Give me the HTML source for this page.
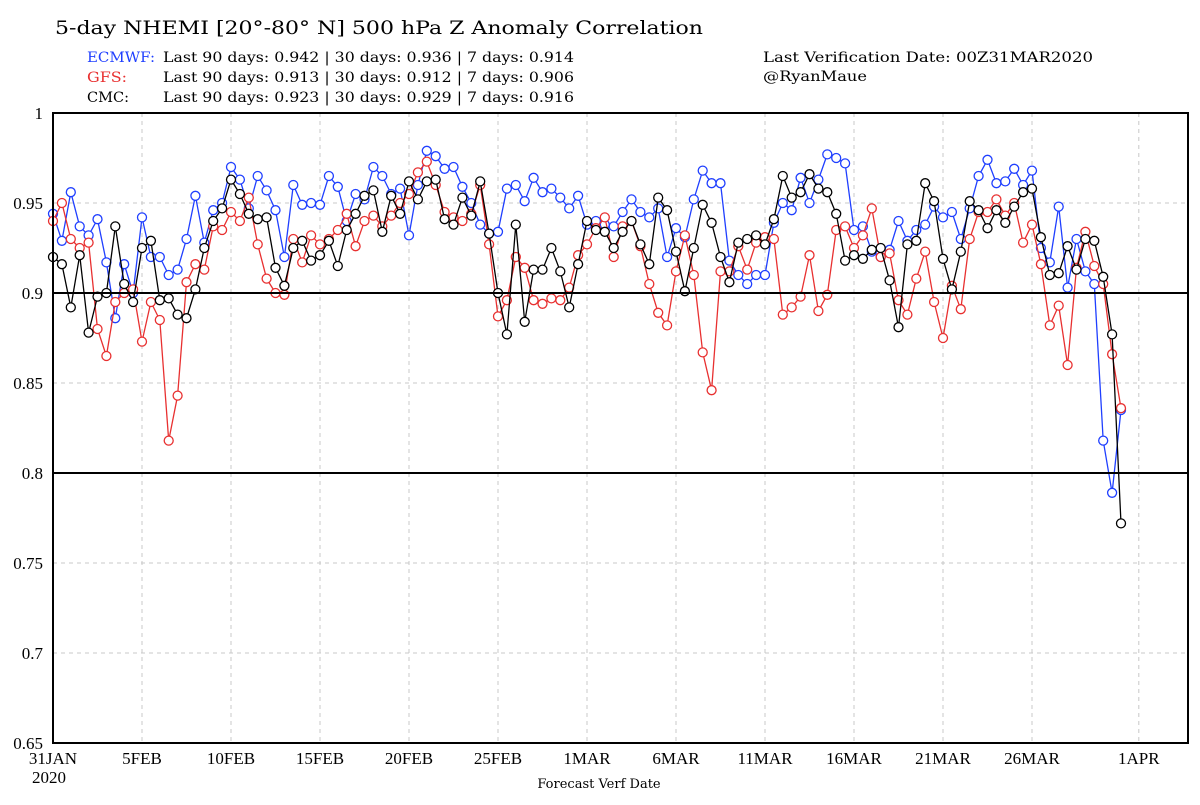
<!DOCTYPE html>
<html><head><meta charset="utf-8"><style>
body{margin:0;background:#fff;width:1200px;height:800px;overflow:hidden}
svg text{font-family:"Liberation Serif",serif}
svg text.w{font-family:"DejaVu Serif","Liberation Serif",serif}
</style></head><body>
<svg id="c" width="1200" height="800">
<text class="w" x="55" y="34" font-size="19" textLength="648" lengthAdjust="spacingAndGlyphs">5-day NHEMI [20°-80° N] 500 hPa Z Anomaly Correlation</text>
<g font-size="13.5">
<text class="w" x="87" y="62" fill="#1f3fff" textLength="68" lengthAdjust="spacingAndGlyphs">ECMWF:</text>
<text class="w" x="163" y="62" textLength="411" lengthAdjust="spacingAndGlyphs">Last 90 days: 0.942 | 30 days: 0.936 | 7 days: 0.914</text>
<text class="w" x="87" y="82" fill="#e83030" textLength="40" lengthAdjust="spacingAndGlyphs">GFS:</text>
<text class="w" x="163" y="82" textLength="411" lengthAdjust="spacingAndGlyphs">Last 90 days: 0.913 | 30 days: 0.912 | 7 days: 0.906</text>
<text class="w" x="87" y="102" textLength="42" lengthAdjust="spacingAndGlyphs">CMC:</text>
<text class="w" x="163" y="102" textLength="411" lengthAdjust="spacingAndGlyphs">Last 90 days: 0.923 | 30 days: 0.929 | 7 days: 0.916</text>
<text class="w" x="763" y="62" textLength="330" lengthAdjust="spacingAndGlyphs">Last Verification Date: 00Z31MAR2020</text>
<text class="w" x="763" y="81" textLength="104" lengthAdjust="spacingAndGlyphs">@RyanMaue</text>
</g>
<g id="grid"></g><g id="series"></g><g id="axes"></g>
<text class="w" x="599" y="788" font-size="13" text-anchor="middle">Forecast Verf Date</text>
</svg>
<script>
const yTicks=[0.65,0.7,0.75,0.8,0.85,0.9,0.95,1];
const yTickLabels=["0.65","0.7","0.75","0.8","0.85","0.9","0.95","1"];
const xTickDays=[0,5,10,15,20,25,30,35,40,45,50,55,61];
const xTickLabels=["31JAN","5FEB","10FEB","15FEB","20FEB","25FEB","1MAR","6MAR","11MAR","16MAR","21MAR","26MAR","1APR"];
const ecmwf=[0.944,0.929,0.956,0.937,0.932,0.941,0.917,0.886,0.916,0.900,0.942,0.920,0.920,0.910,0.913,0.930,0.954,0.928,0.946,0.950,0.970,0.963,0.947,0.965,0.957,0.946,0.920,0.960,0.949,0.950,0.949,0.965,0.959,0.940,0.955,0.952,0.970,0.965,0.955,0.958,0.932,0.960,0.979,0.976,0.969,0.970,0.959,0.950,0.938,0.933,0.934,0.958,0.960,0.951,0.964,0.956,0.958,0.953,0.947,0.954,0.938,0.940,0.938,0.937,0.945,0.952,0.945,0.942,0.947,0.920,0.936,0.931,0.952,0.968,0.961,0.961,0.918,0.910,0.905,0.910,0.910,0.939,0.950,0.946,0.964,0.950,0.963,0.977,0.975,0.972,0.935,0.937,0.923,0.920,0.924,0.940,0.929,0.935,0.938,0.948,0.942,0.945,0.930,0.947,0.965,0.974,0.961,0.962,0.969,0.960,0.968,0.925,0.917,0.948,0.903,0.930,0.912,0.905,0.818,0.789,0.835];
const gfs=[0.940,0.950,0.930,0.925,0.928,0.880,0.865,0.895,0.900,0.902,0.873,0.895,0.885,0.818,0.843,0.906,0.916,0.913,0.937,0.935,0.945,0.940,0.953,0.927,0.908,0.900,0.899,0.930,0.917,0.932,0.927,0.930,0.935,0.944,0.926,0.940,0.943,0.937,0.943,0.950,0.955,0.967,0.973,0.960,0.945,0.942,0.940,0.944,0.960,0.927,0.887,0.896,0.920,0.914,0.896,0.894,0.897,0.896,0.903,0.921,0.927,0.936,0.942,0.920,0.937,0.940,0.926,0.905,0.889,0.882,0.912,0.932,0.910,0.867,0.846,0.912,0.912,0.926,0.913,0.928,0.931,0.930,0.888,0.892,0.898,0.921,0.890,0.899,0.935,0.937,0.925,0.932,0.947,0.920,0.922,0.896,0.888,0.908,0.923,0.895,0.875,0.904,0.891,0.930,0.945,0.945,0.952,0.943,0.950,0.928,0.938,0.916,0.882,0.893,0.860,0.914,0.934,0.915,0.905,0.866,0.836];
const cmc=[0.920,0.916,0.892,0.921,0.878,0.898,0.900,0.937,0.905,0.895,0.925,0.929,0.896,0.897,0.888,0.886,0.902,0.925,0.940,0.947,0.963,0.955,0.944,0.941,0.942,0.914,0.904,0.925,0.929,0.918,0.921,0.929,0.915,0.935,0.944,0.954,0.957,0.934,0.954,0.944,0.962,0.952,0.962,0.963,0.941,0.938,0.953,0.943,0.962,0.933,0.900,0.877,0.938,0.884,0.913,0.913,0.925,0.912,0.892,0.916,0.940,0.935,0.934,0.925,0.934,0.940,0.927,0.916,0.953,0.946,0.923,0.901,0.925,0.949,0.939,0.920,0.906,0.928,0.930,0.932,0.927,0.941,0.965,0.953,0.956,0.966,0.958,0.956,0.944,0.918,0.921,0.919,0.924,0.925,0.907,0.881,0.927,0.929,0.961,0.951,0.919,0.902,0.923,0.951,0.946,0.936,0.946,0.939,0.948,0.956,0.958,0.931,0.910,0.911,0.926,0.913,0.930,0.929,0.909,0.877,0.772];
const L=53,R=1188,T=113,B=743,ppd=17.8;
const X=d=>L+d*ppd, Y=v=>B-(v-0.65)/0.35*(B-T);
const NS="http://www.w3.org/2000/svg";
function mk(tag,parent,at){const e=document.createElementNS(NS,tag);for(const k in at)e.setAttribute(k,at[k]);parent.appendChild(e);return e;}
const grid=document.getElementById('grid'),axes=document.getElementById('axes'),ser=document.getElementById('series');
yTicks.forEach((v,i)=>{
 const y=Y(v);
 if(v===0.9||v===0.8){const l=mk('line',axes,{x1:L,x2:R,y1:y,y2:y,stroke:'#000','stroke-width':2});
 
 }
 else{const l=mk('line',grid,{x1:L,x2:R,y1:y,y2:y,stroke:'#c8c8c8','stroke-dasharray':'4,4'});
 
 }
 const t=mk('text',axes,{x:L-10,y:y+6,'font-size':17,'text-anchor':'end'});t.textContent=yTickLabels[i];
 
 
});
xTickDays.forEach((d,i)=>{
 const x=X(d);
 const l=mk('line',grid,{x1:x,x2:x,y1:T,y2:B,stroke:'#c8c8c8','stroke-dasharray':'4,4'});
 
 
 const t=mk('text',axes,{x:x,y:B+21,'font-size':17,'text-anchor':'middle'});t.textContent=xTickLabels[i];
 
 
});
const yr=mk('text',axes,{x:L-21,y:B+40,'font-size':17});yr.textContent='2020';


const fr=mk('rect',axes,{x:L,y:T,width:R-L,height:B-T,fill:'none',stroke:'#000','stroke-width':2});


[[ecmwf,'#1f3fff','ecmwf'],[gfs,'#e83030','gfs'],[cmc,'#000','cmc']].forEach(([arr,col,nm])=>{
 const g=mk('g',ser,{});
 
 
 const pts=arr.map((v,i)=>X(i/2)+','+Y(v)).join(' ');
 const pl=mk('polyline',g,{points:pts,fill:'none',stroke:col,'stroke-width':1.3});
 
 
 arr.forEach((v,i)=>{const c=mk('circle',g,{cx:X(i/2),cy:Y(v),r:4.5,fill:'#fff',stroke:col,'stroke-width':1.3});
 
 });
});
</script>
</body></html>
